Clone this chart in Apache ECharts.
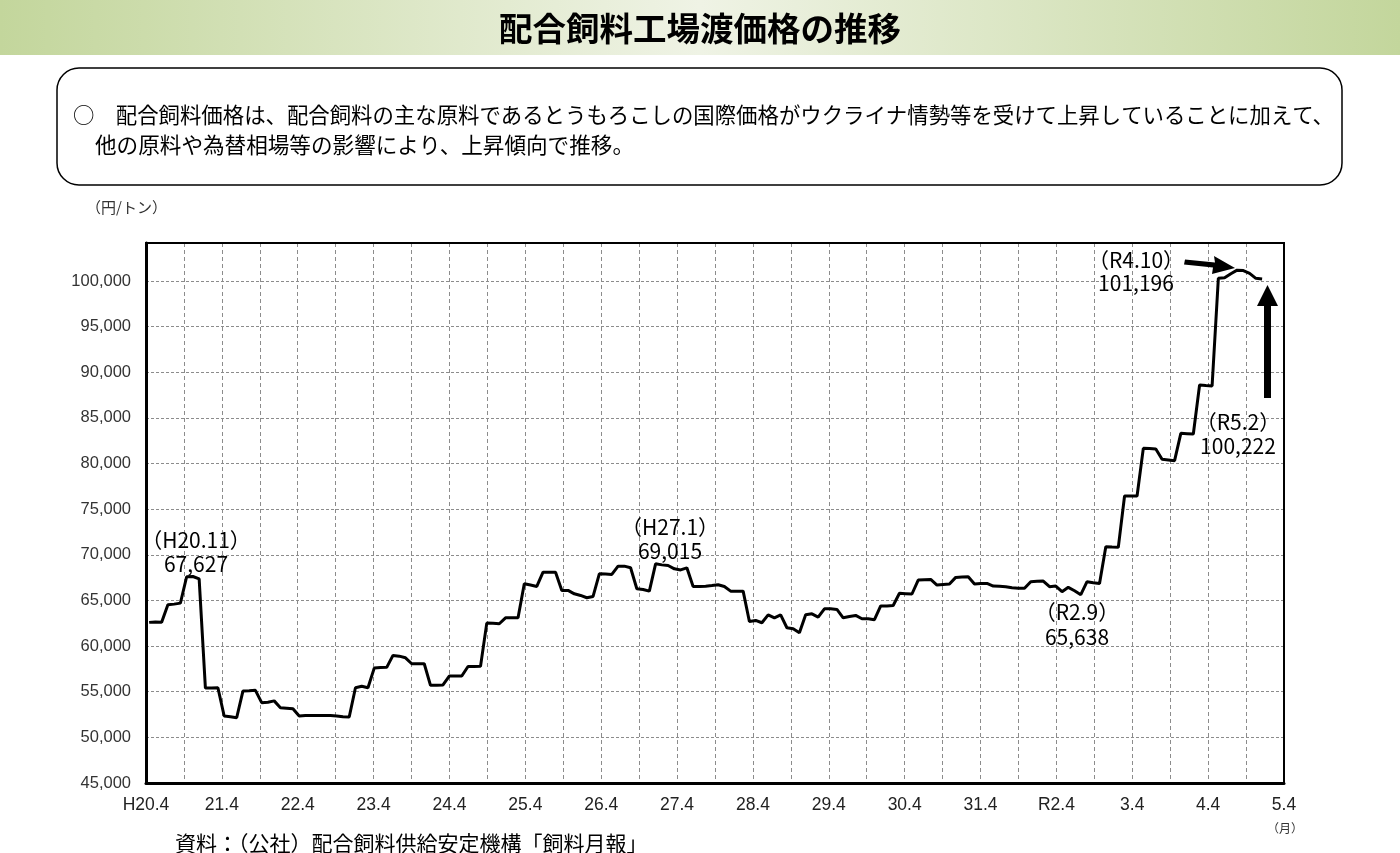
<!DOCTYPE html>
<html lang="ja">
<head>
    <meta charset="utf-8">
    <title>配合飼料工場渡価格の推移</title>
    <style>
        html, body { margin: 0; padding: 0; background: #fff; }
        #main { width: 1400px; height: 853px; }
    </style>
</head>
<body>
<div id="main"></div>

<script src="https://cdn.jsdelivr.net/npm/echarts@6/dist/echarts.min.js"></script>
<script type="text/javascript">
    // 月次の配合飼料工場渡価格（円/トン）H20.4 ～ R5.2
    var prices = [
        62600, 62650, 62620,  64530, 64600, 64710,  67600, 67627, 67375,
        55400, 55420, 55440,  52340, 52250, 52150,  55070, 55100, 55150,
        53800, 53850, 54000,  53250, 53200, 53140,  52340, 52400, 52400,
        52400, 52400, 52400,  52350, 52250, 52230,  55440, 55600, 55440,
        57590, 57650, 57670,  58980, 58900, 58720,  58070, 58070, 58070,
        55700, 55700, 55750,  56720, 56720, 56720,  57770, 57770, 57780,
        62520, 62500, 62450,  63100, 63100, 63100,  66830, 66700, 66540,
        68100, 68100, 68100,  66100, 66100, 65730,  65550, 65300, 65440,
        67920, 67900, 67850,  68760, 68760, 68580,  66280, 66200, 66020,
        69015, 68900, 68830,  68470, 68350, 68580,  66530, 66530, 66570,
        66640, 66720, 66530,  66020, 66020, 66020,  62700, 62810, 62560,
        63430, 63100, 63430,  62010, 61900, 61460,  63430, 63540, 63180,
        64090, 64090, 64020,  63100, 63250, 63360,  63000, 63000, 62890,
        64400, 64400, 64450,  65790, 65750, 65710,  67240, 67280, 67310,
        66690, 66750, 66800,  67530, 67570, 67600,  66800, 66850, 66870,
        66580, 66550, 66510,  66400, 66350, 66330,  67060, 67100, 67130,
        66510, 66580, 65960,  66440, 66070, 65638,  67060, 66950, 66870,
        70890, 70850, 70820,  76445, 76445, 76445,  81670, 81650, 81600,
        80465, 80400, 80320,  83310, 83280, 83240,  88610, 88550, 88500,
        100300, 100350, 100800,  101196, 101150, 100850,  100300, 100222
    ];

    // 横軸の目盛ラベル（12か月ごと）
    var tickLabels = ['H20.4', '21.4', '22.4', '23.4', '24.4', '25.4', '26.4', '27.4',
                      '28.4', '29.4', '30.4', '31.4', 'R2.4', '3.4', '4.4', '5.4'];

    // 注記（時点と価格）
    var notes = [
        { period: '（H20.11）', value: '67,627' },
        { period: '（H27.1）',  value: '69,015' },
        { period: '（R2.9）',   value: '65,638' },
        { period: '（R4.10）',  value: '101,196' },
        { period: '（R5.2）',   value: '100,222' }
    ];

    // 月のカテゴリ（H20.4 から、原図の余白分も含めて 182 か月）
    var months = [];
    for (var i = 0; i < 182; i++) {
        var y = 2008 + Math.floor((3 + i) / 12);
        var mo = (3 + i) % 12 + 1;
        var era = (y < 2019 || (y === 2019 && mo < 5)) ? 'H' + (y - 1988) : 'R' + (y - 2018);
        months.push(era + '.' + mo);
    }

    var FONT = '"Noto Sans CJK JP", "Noto Sans", sans-serif';
    var LATIN = '"Liberation Sans", Arial, sans-serif';
    var myChart = echarts.init(document.getElementById('main'));

    function note(n, x, y1, y2) {
        return [
            { type: 'text', x: x, y: y1, z: 20,
              style: { text: n.period, font: '21px ' + FONT, fill: '#000', textAlign: 'center', textVerticalAlign: 'middle' } },
            { type: 'text', x: x, y: y2, z: 20,
              style: { text: n.value, font: '21px ' + FONT, fill: '#000', textAlign: 'center', textVerticalAlign: 'middle' } }
        ];
    }

    var graphics = [
        // 見出し帯
        { type: 'rect', shape: { x: 0, y: 0, width: 1400, height: 55 }, z: 0,
          style: { fill: { type: 'linear', x: 0, y: 0, x2: 1, y2: 0,
                   colorStops: [ { offset: 0, color: '#c3d69c' }, { offset: 0.5, color: '#eff3e5' }, { offset: 1, color: '#c3d69c' } ] } } },
        { type: 'text', x: 700, y: 28,
          style: { text: '配合飼料工場渡価格の推移', font: 'bold 33.5px ' + FONT, fill: '#000', textAlign: 'center', textVerticalAlign: 'middle' } },
        // 説明枠
        { type: 'rect', shape: { x: 57, y: 68, width: 1285, height: 117, r: 22 },
          style: { fill: '#fff', stroke: '#000', lineWidth: 1.5 } },
        { type: 'text', x: 73, y: 115,
          style: { text: '○　配合飼料価格は、配合飼料の主な原料であるとうもろこしの国際価格がウクライナ情勢等を受けて上昇していることに加えて、',
                   font: '21.4px ' + FONT, fill: '#000', textVerticalAlign: 'middle' } },
        { type: 'text', x: 95, y: 145,
          style: { text: '他の原料や為替相場等の影響により、上昇傾向で推移。',
                   font: '21.6px ' + FONT, fill: '#000', textVerticalAlign: 'middle' } },
        // 単位
        { type: 'text', x: 86, y: 207,
          style: { text: '（円/トン）', font: '15px ' + FONT, fill: '#333', textVerticalAlign: 'middle' } },
        { type: 'text', x: 1285, y: 828,
          style: { text: '（月）', font: '12px ' + FONT, fill: '#333', textAlign: 'center', textVerticalAlign: 'middle' } },
        // 出典
        { type: 'text', x: 175, y: 843,
          style: { text: '資料：（公社）配合飼料供給安定機構「飼料月報」', font: '21px ' + FONT, fill: '#000', textVerticalAlign: 'middle' } },
        // グラフ枠（上・右）
        { type: 'rect', z: 15, shape: { x: 146, y: 243, width: 1138, height: 540 },
          style: { fill: null, stroke: '#000', lineWidth: 2 } },
        // 矢印
        { type: 'polygon', z: 20,
          shape: { points: [[1185, 259.5], [1215, 262.5], [1214, 256], [1235, 268], [1212, 274], [1213, 267.5], [1184, 264.5]] },
          style: { fill: '#000' } },
        { type: 'polygon', z: 20,
          shape: { points: [[1264, 398], [1264, 306], [1257, 306], [1267.5, 285], [1278, 306], [1271, 306], [1271, 398]] },
          style: { fill: '#000' } }
    ];
    graphics = graphics.concat(note(notes[0], 196, 540, 564))
                       .concat(note(notes[1], 670, 527, 551))
                       .concat(note(notes[2], 1077, 612, 637))
                       .concat(note(notes[3], 1136, 260, 283))
                       .concat(note(notes[4], 1238, 422, 446));

    var option = {
        animation: false,
        textStyle: { fontFamily: FONT },
        grid: {
            left: 146, right: 116, top: 243, bottom: 70
        },
        xAxis: [
            {
                type: 'category',
                data: months,
                boundaryGap: true,
                show: false
            },
            {
                type: 'value',
                position: 'bottom',
                min: 0, max: 180, interval: 6,
                axisLine: { lineStyle: { color: '#000', width: 3 } },
                axisTick: { show: false },
                splitLine: { show: true, lineStyle: { color: '#8c8c8c', width: 1, type: [4, 3] } },
                axisLabel: {
                    margin: 13,
                    fontSize: 17.5,
                    color: '#222',
                    fontFamily: LATIN,
                    formatter: function (v) { return v % 12 === 0 ? tickLabels[v / 12] : ''; }
                }
            }
        ],
        yAxis: {
            type: 'value',
            min: 45000, max: 104170, interval: 5000,
            axisLine: { show: true, lineStyle: { color: '#000', width: 3 } },
            axisTick: { show: false },
            splitLine: { show: true, lineStyle: { color: '#8c8c8c', width: 1, type: [3, 2] } },
            axisLabel: {
                margin: 15,
                fontSize: 16.5,
                color: '#333',
                fontFamily: LATIN,
                formatter: function (v) { return v % 5000 === 0 ? v.toLocaleString('en-US') : ''; }
            }
        },
        series: [
            {
                name: '配合飼料工場渡価格',
                type: 'line',
                xAxisIndex: 0,
                data: prices,
                symbol: 'none',
                lineStyle: { color: '#000', width: 3 },
                z: 10
            }
        ],
        graphic: graphics
    };

    myChart.setOption(option);
</script>
</body>
</html>
